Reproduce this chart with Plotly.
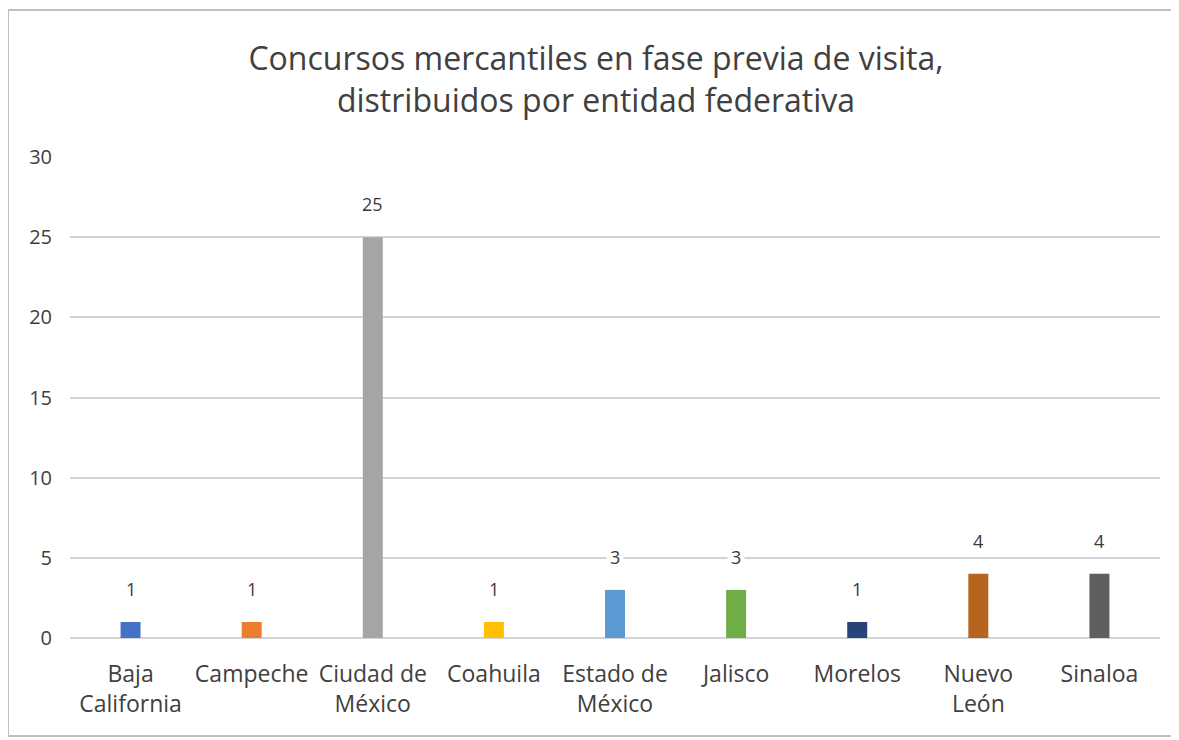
import plotly.graph_objects as go

categories = ["Baja<br>California", "Campeche", "Ciudad de<br>México", "Coahuila",
              "Estado de<br>México", "Jalisco", "Morelos", "Nuevo<br>León", "Sinaloa"]
values = [1, 1, 25, 1, 3, 3, 1, 4, 4]
colors = ["#4472C4", "#ED7D31", "#A5A5A5", "#FFC000", "#5B9BD5",
          "#70AD47", "#264478", "#B5651D", "#5F5F5F"]
y_ticks = [0, 5, 10, 15, 20, 25, 30]
title_text = "Concursos mercantiles en fase previa de visita,<br>distribuidos por entidad federativa"

W, H = 1179, 740
ml, mr, mt, mb = 62, 27, 149, 110
pw, ph = W - ml - mr, H - mt - mb

fig = go.Figure()
fig.add_trace(go.Bar(x=categories, y=values, marker=dict(color=colors, line=dict(width=0)),
                     showlegend=False, hoverinfo="x+y"))

for c, v in zip(categories, values):
    fig.add_annotation(x=c, y=v, text=str(v), showarrow=False, yshift=33,
                       font=dict(family="Open Sans", size=18, color="#3A3A3A"),
                       bgcolor="white", borderpad=3)

fig.update_layout(
    width=W, height=H,
    margin=dict(l=ml, r=mr, t=mt, b=mb),
    paper_bgcolor="white", plot_bgcolor="white",
    bargap=0.835,
    title=dict(text=title_text, x=(596 - 8) / W, xanchor="center", xref="container",
               y=1 - 62 / H, yanchor="top",
               font=dict(family="Open Sans", size=32, color="#404040")),
    xaxis=dict(showgrid=False, showline=False, ticks="", ticklabelstandoff=20,
               tickfont=dict(family="Open Sans", size=23, color="#404040")),
    yaxis=dict(range=[0, 30], tickvals=y_ticks, showgrid=True, gridcolor="#D4D4D4", gridwidth=2,
               zeroline=True, zerolinecolor="#D4D4D4", zerolinewidth=2, ticks="",
               tickfont=dict(family="Open Sans", size=20, color="#404040"), ticklabelstandoff=17),
    shapes=[dict(type="rect", xref="paper", yref="paper",
                 x0=(0 - ml) / pw, x1=(1164 - ml) / pw,
                 y0=(H - mb - 728) / ph, y1=(H - mb - 2) / ph,
                 line=dict(color="#BFBFBF", width=2), fillcolor="rgba(0,0,0,0)", layer="below")],
)

fig.write_html("out.html")
